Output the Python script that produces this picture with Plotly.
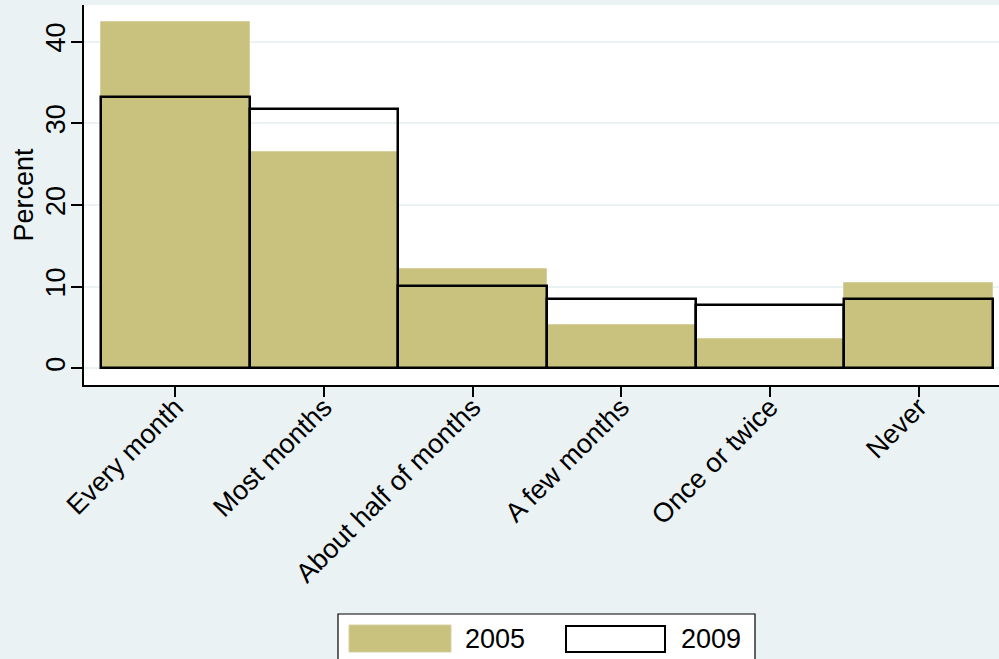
import plotly.graph_objects as go

# Share of respondents by frequency, two survey years
categories = ["Every month", "Most months", "About half of months",
              "A few months", "Once or twice", "Never"]
pct_2005 = [42.4, 26.5, 12.1, 5.3, 3.55, 10.5]
pct_2009 = [33.2, 31.8, 10.1, 8.45, 7.75, 8.45]
y_ticks = [0, 10, 20, 30, 40]
series_names = ["2005", "2009"]

BG = "#EAF2F3"
KHAKI = "#C9C27F"
FONT = "Liberation Sans, Arial, sans-serif"
FS = 27

fig = go.Figure()
fig.add_trace(go.Bar(
    x=categories, y=pct_2005, name=series_names[0],
    marker=dict(color=KHAKI, line=dict(color="#D6D0A0", width=1)),
    showlegend=False,
))
fig.add_trace(go.Bar(
    x=categories, y=pct_2009, name=series_names[1],
    marker=dict(color="rgba(0,0,0,0)", line=dict(color="black", width=2.5)),
    showlegend=False,
))

fig.update_layout(
    width=999, height=659,
    margin=dict(l=84, r=0, t=5, b=274),
    paper_bgcolor=BG, plot_bgcolor="white",
    barmode="overlay", bargap=0,
    font=dict(family=FONT, size=FS, color="black"),
    xaxis=dict(
        type="category", range=[-0.614, 5.54], automargin=False,
        showline=True, linecolor="black", linewidth=1.5,
        ticks="outside", ticklen=10, tickcolor="black", tickwidth=1.5,
        tickangle=-45, showgrid=False, ticklabelstandoff=-16,
        tickfont=dict(family=FONT, size=FS),
    ),
    yaxis=dict(
        range=[-2.04, 44.47], tickvals=y_ticks, automargin=False,
        showline=True, linecolor="black", linewidth=1.5,
        ticks="outside", ticklen=11, tickcolor="black", tickwidth=1.5,
        tickangle=-90, showgrid=True, gridcolor=BG, gridwidth=2,
        zeroline=False, ticklabelstandoff=-5,
        tickfont=dict(family=FONT, size=FS),
        title=dict(text="Percent", font=dict(family=FONT, size=FS), standoff=0),
    ),
)

# Legend box with wide swatches, drawn in pixel-derived paper coordinates
W, H = 999, 659
pl, pr, pt, pb = 84, 0, 5, 274
pw, ph = W - pl - pr, H - pt - pb


def px(x):
    return (x - pl) / pw


def py(y):
    return (H - pb - y) / ph


fig.add_shape(type="rect", xref="paper", yref="paper",
              x0=px(338), x1=px(755), y0=py(664), y1=py(614),
              fillcolor="white", line=dict(color="black", width=1.2), layer="above")
fig.add_shape(type="rect", xref="paper", yref="paper",
              x0=px(349), x1=px(451), y0=py(652), y1=py(625),
              fillcolor=KHAKI, line=dict(color="#D6D0A0", width=1), layer="above")
fig.add_shape(type="rect", xref="paper", yref="paper",
              x0=px(566), x1=px(665), y0=py(652), y1=py(626),
              fillcolor="white", line=dict(color="black", width=2), layer="above")
for label, xpos in zip(series_names, [463, 679]):
    fig.add_annotation(xref="paper", yref="paper", x=px(xpos), y=py(639),
                       text=label, showarrow=False, xanchor="left", yanchor="middle",
                       font=dict(family=FONT, size=FS, color="black"))

fig.write_html("out.html")
